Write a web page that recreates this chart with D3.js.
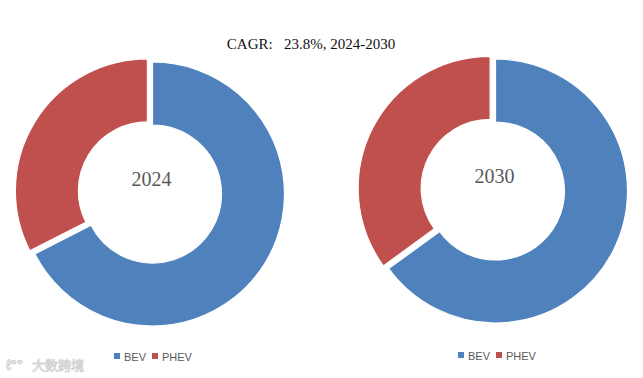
<!DOCTYPE html>
<html><head><meta charset="utf-8">
<script src="https://cdn.jsdelivr.net/npm/d3@7"></script>
<style>body{margin:0;background:#fff}svg{display:block}</style>
</head><body>
<svg id="c" width="643" height="378"></svg>
<script>
const title = "CAGR:   23.8%, 2024-2030";
const categories = ["BEV", "PHEV"];
const years = ["2024", "2030"];
const bevShare = [67.5, 65.0];
const phevShare = [32.5, 35.0];
const colors = ["#4F81BD", "#C0504D"];

const svg = d3.select("#c");

svg.append("text").attr("x", 311).attr("y", 49).attr("text-anchor", "middle")
  .attr("font-family", "'Liberation Serif', 'DejaVu Serif', serif").attr("font-size", 15)
  .attr("fill", "#111").attr("xml:space", "preserve").style("white-space", "pre").text(title);

const layouts = [
  {cx: 152.5, cy: 194, legendX: 114, legendY: 357},
  {cx: 495.5, cy: 191, legendX: 458, legendY: 356}
];
const outerR = 132, innerR = 69, explode = 6;

const pie = d3.pie().sort(null).value(d => d.v);
const arc = d3.arc().innerRadius(innerR).outerRadius(outerR);

years.forEach((yr, i) => {
  const L = layouts[i];
  const data = categories.map((c, k) => ({c, v: k === 0 ? bevShare[i] : phevShare[i], k}));
  const g = svg.append("g").attr("transform", `translate(${L.cx},${L.cy})`);
  g.selectAll("path").data(pie(data)).join("path")
    .attr("d", arc)
    .attr("fill", d => colors[d.data.k])
    .attr("stroke", "#fff").attr("stroke-width", 1.2)
    .attr("transform", d => {
      if (d.data.k !== 1) return null;
      const a = (d.startAngle + d.endAngle) / 2;
      return `translate(${Math.sin(a) * explode},${-Math.cos(a) * explode})`;
    });
  g.append("text").attr("x", -1).attr("y", -8).attr("text-anchor", "middle")
    .attr("font-family", "'Liberation Serif', 'DejaVu Serif', serif").attr("font-size", 20)
    .attr("fill", "#595959").text(yr);

  const lg = svg.append("g").attr("transform", `translate(${L.legendX},${L.legendY})`);
  const offs = [0, 38];
  categories.forEach((c, k) => {
    lg.append("rect").attr("x", offs[k]).attr("y", -4).attr("width", 6).attr("height", 6).attr("fill", colors[k]);
    lg.append("text").attr("x", offs[k] + 10).attr("y", 4)
      .attr("font-family", "'Liberation Sans', Arial, sans-serif").attr("font-size", 11)
      .attr("fill", "#595959").text(c);
  });
});

// watermark
const wm = svg.append("g").attr("opacity", 0.5);
wm.append("text").attr("x", 6).attr("y", 370).attr("font-family", "'Liberation Sans', sans-serif")
  .attr("font-size", 15).attr("fill", "none").attr("stroke", "#aaa").attr("stroke-width", 0.9).text("ℓ°°");
wm.append("text").attr("x", 32).attr("y", 370).attr("font-family", "'Noto Sans CJK SC', sans-serif")
  .attr("font-size", 13).attr("fill", "#fff").attr("stroke", "#aaa").attr("stroke-width", 0.9).text("大数跨境");
</script>
</body></html>
